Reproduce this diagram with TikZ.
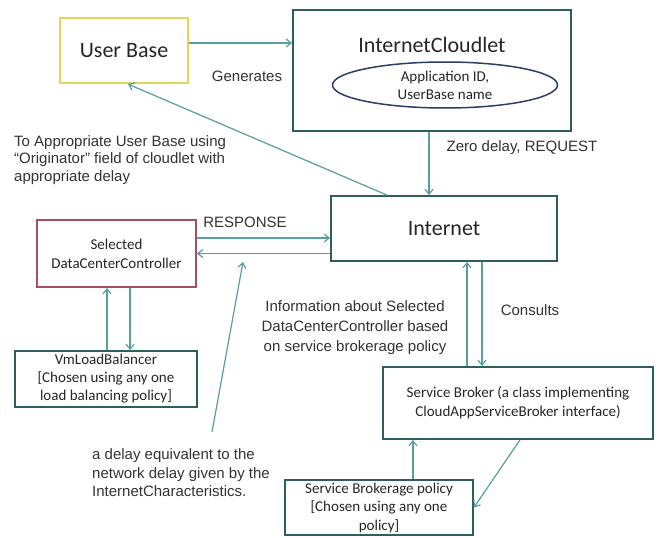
\documentclass[tikz,border=0pt]{standalone}
\usepackage{fontspec}
\setmainfont{Liberation Sans}
\newfontfamily\calfont{Carlito}
\usetikzlibrary{arrows.meta,shapes.geometric}
\definecolor{boxc}{HTML}{2E5E5E}
\definecolor{arrc}{HTML}{5B9EA0}
\definecolor{ubc}{HTML}{E6D35A}
\definecolor{dccc}{HTML}{A8505F}
\definecolor{ellc}{HTML}{2F3E66}
\definecolor{txtc}{HTML}{333333}
\tikzset{
  box/.style={draw=boxc, line width=1.8pt, fill=white, inner sep=0pt, align=center,
    text=black!85, font=\calfont\fontsize{15}{19}\selectfont},
  bigbox/.style={box, font=\calfont\fontsize{22}{26}\selectfont},
  lbl/.style={text=txtc, inner sep=0pt, font=\fontsize{15}{18}\selectfont},
  arr/.style={draw=arrc, line width=1.2pt, -{Straight Barb[length=5pt,width=8pt]}},
}
\begin{document}
\begin{tikzpicture}[x=1pt,y=-1pt]
\useasboundingbox[fill=white] (0,0) rectangle (659,538);
% boxes
\node[bigbox, draw=ubc, line width=2.2pt, minimum width=128pt, minimum height=65pt] (ub) at (124,50.5) {User Base};
\node[box, minimum width=278pt, minimum height=121pt] (cl) at (432,70.5) {};
\node[inner sep=0pt, text=black!85, font=\calfont\fontsize{22}{26}\selectfont] (cltitle) at (432,45) {InternetCloudlet};
\node[ellipse, draw=ellc, line width=1.5pt, minimum width=225pt, minimum height=46pt, inner sep=0pt, align=center,
  text=black!85, font=\calfont\fontsize{15}{18}\selectfont] (ell) at (445,85) {Application ID,\\UserBase name};
\node[bigbox, minimum width=226pt, minimum height=65pt] (inet) at (444,228.5) {Internet};
\node[box, draw=dccc, minimum width=159pt, minimum height=67pt] (dcc) at (116.5,253.5) {Selected\\DataCenterController};
\node[box, minimum width=182pt, minimum height=56pt, font=\calfont\fontsize{15}{18}\selectfont] (vm) at (106,379) {VmLoadBalancer\\{}[Chosen using any one\\load balancing policy]};
\node[box, minimum width=270pt, minimum height=72pt] (sb) at (518,403) {Service Broker (a class implementing\\CloudAppServiceBroker interface)};
\node[box, minimum width=188pt, minimum height=55pt, font=\calfont\fontsize{15}{18.5}\selectfont] (sbp) at (379,507.5) {Service Brokerage policy\\{}[Chosen using any one\\policy]};
% labels
\node[lbl] (gen) at (247,76) {Generates};
\node[lbl] (zero) at (522,148) {Zero delay, REQUEST};
\node[lbl] (resp) at (245,222) {RESPONSE};
\node[lbl] (cons) at (530,310) {Consults};
\node[lbl, align=center, font=\fontsize{15}{20}\selectfont] (info) at (355,328) {Information about Selected\\DataCenterController based\\on service brokerage policy};
\node[lbl, align=left, anchor=west, font=\fontsize{15}{17.5}\selectfont] (orig) at (14,160) {To Appropriate User Base using\\``Originator'' field of cloudlet with\\appropriate delay};
\node[lbl, align=left, anchor=west, font=\fontsize{15}{18.5}\selectfont] (delay) at (92,473) {a delay equivalent to the\\network delay given by the\\InternetCharacteristics.};
\coordinate (dstart) at (212,432);
\coordinate (dtip) at (243,262);
% connectors
\draw[arr] ([yshift=7.5pt]ub.east) -- ([yshift=27.5pt]cl.west);
\draw[arr] ([xshift=-3pt]cl.south) -- ([xshift=-15pt]inet.north);
\draw[arr] ([xshift=-57pt]inet.north) -- ([xshift=4pt]ub.south);
\draw[arr] ([yshift=15.5pt]dcc.east) -- ([yshift=15.5pt]dcc.east -| inet.west);
\draw[arr] (dcc.east -| inet.west) -- (dcc.east);
\draw[arr] ([xshift=1pt]vm.north) -- ([xshift=1pt]vm.north |- dcc.south);
\draw[arr] ([xshift=13.5pt]dcc.south) -- ([xshift=13.5pt]dcc.south |- vm.north);
\draw[arr] (dstart) -- (dtip);
\draw[arr] ([xshift=-51pt]sb.north) -- ([xshift=-51pt]sb.north |- inet.south);
\draw[arr] ([xshift=38pt]inet.south) -- ([xshift=38pt]inet.south |- sb.north);
\draw[arr] ([xshift=34pt]sbp.north) -- ([xshift=34pt]sbp.north |- sb.south);
\draw[arr] ([xshift=2pt]sb.south) -- (sbp.east);
\end{tikzpicture}
\end{document}
